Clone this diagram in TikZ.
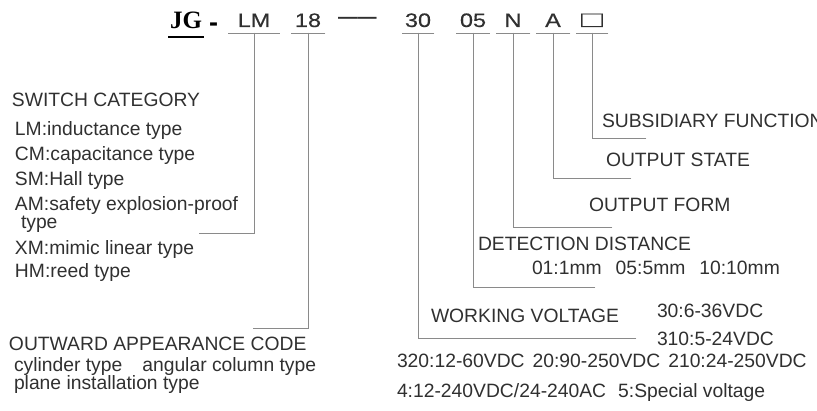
\documentclass[tikz,border=0pt]{standalone}
\usepackage{fontspec}
\setmainfont{Liberation Sans}
\newfontfamily\codefont[FakeStretch=1.2,FakeBold=0.4]{Liberation Sans}
\newfontfamily\brandfont{Liberation Serif}
\usepackage{tikz}
\definecolor{CodeInk}{RGB}{48,48,48}
\definecolor{CodeLead}{RGB}{138,138,138}

\begin{document}
\begin{tikzpicture}[
x=1pt,
y=-1pt,
every node/.style={font=\fontsize{19.3}{23}\selectfont,text=CodeInk,inner sep=0pt,outer sep=0pt},
entry/.style={anchor=base west},
codeitem/.style={font=\codefont\fontsize{19.5}{23}\selectfont,anchor=south,text depth=6pt,align=center},
leader/.style={draw=CodeLead,line width=0.9pt,line cap=rect}
]

\path[use as bounding box] (0,0) rectangle (817,411);

\node[font=\brandfont\bfseries\fontsize{25}{28}\selectfont,text=black,anchor=south west,inner xsep=2pt,text depth=8pt] (brand) at (168,37) {JG};
\node[font=\bfseries\fontsize{27}{30}\selectfont,text=black,anchor=base west] (brandsep) at (209,32) {-};

\node[codeitem,minimum width=51] (lm) at (254,33) {LM};
\node[codeitem,minimum width=34] (len) at (308,33) {18};
\node[entry,font=\fontsize{19.3}{23}\selectfont\bfseries] (dash) at (338,24) {——};
\node[codeitem,minimum width=32] (volt) at (418,33) {30};
\node[codeitem,minimum width=33] (dist) at (473,33) {05};
\node[codeitem,minimum width=34] (form) at (513,33) {N};
\node[codeitem,minimum width=34] (state) at (553,33) {A};
\node[codeitem,minimum width=32] (aux) at (592,33) {\scalebox{1.55}[1.15]{□}};

\draw[black,line width=1.4pt] (brand.south west) -- (brand.south east);
\foreach \n in {lm,len,volt,dist,form,state,aux}
  \draw[leader] (\n.south west) -- (\n.south east);

\coordinate (catend) at (199,233);
\coordinate (shapeend) at (253,328);
\coordinate (voltend) at (636,338);
\coordinate (distend) at (595,287);
\coordinate (formend) at (612,227);
\coordinate (stateend) at (631,178);
\coordinate (auxend) at (646,138);

\draw[leader] (lm.south) |- (catend);
\draw[leader] (len.south) |- (shapeend);
\draw[leader] (volt.south) |- (voltend);
\draw[leader] (dist.south) |- (distend);
\draw[leader] (form.south) |- (formend);
\draw[leader] (state.south) |- (stateend);
\draw[leader] (aux.south) |- (auxend);

\node[entry] (cattitle) at (12,107) {SWITCH CATEGORY};
\node[entry] (lmtype) at (15,136) {LM:inductance type};
\node[entry] (cmtype) at (15,161) {CM:capacitance type};
\node[entry] (smtype) at (15,186) {SM:Hall type};
\node[entry] (amtype) at (15,211) {AM:safety explosion-proof};
\node[entry] (amtypeb) at (21,229) {type};
\node[entry] (xmtype) at (15,255) {XM:mimic linear type};
\node[entry] (hmtype) at (15,278) {HM:reed type};

\node[entry] (shapetitle) at (9,351) {OUTWARD APPEARANCE CODE};
\node[entry] (shapeopt) at (14,372) {cylinder type\hspace{20pt}angular column type};
\node[entry] (shapeoptb) at (14,390) {plane installation type};

\node[entry] (auxtitle) at (602,128) {SUBSIDIARY FUNCTION};
\node[entry] (statetitle) at (606,167) {OUTPUT STATE};
\node[entry] (formtitle) at (589,212) {OUTPUT FORM};
\node[entry] (disttitle) at (478,251) {DETECTION DISTANCE};
\node[entry] (distopt) at (532,275) {01:1mm\hspace{14pt}05:5mm\hspace{14pt}10:10mm};
\node[entry] (volttitle) at (431,323) {WORKING VOLTAGE};
\node[entry] (voltopta) at (657,318) {30:6-36VDC};
\node[entry] (voltoptb) at (657,346) {310:5-24VDC};
\node[entry] (voltoptc) at (397,368) {320:12-60VDC\hspace{8pt}20:90-250VDC\hspace{8pt}210:24-250VDC};
\node[entry] (voltoptd) at (397,398) {4:12-240VDC/24-240AC\hspace{12pt}5:Special voltage};

\end{tikzpicture}
\end{document}
